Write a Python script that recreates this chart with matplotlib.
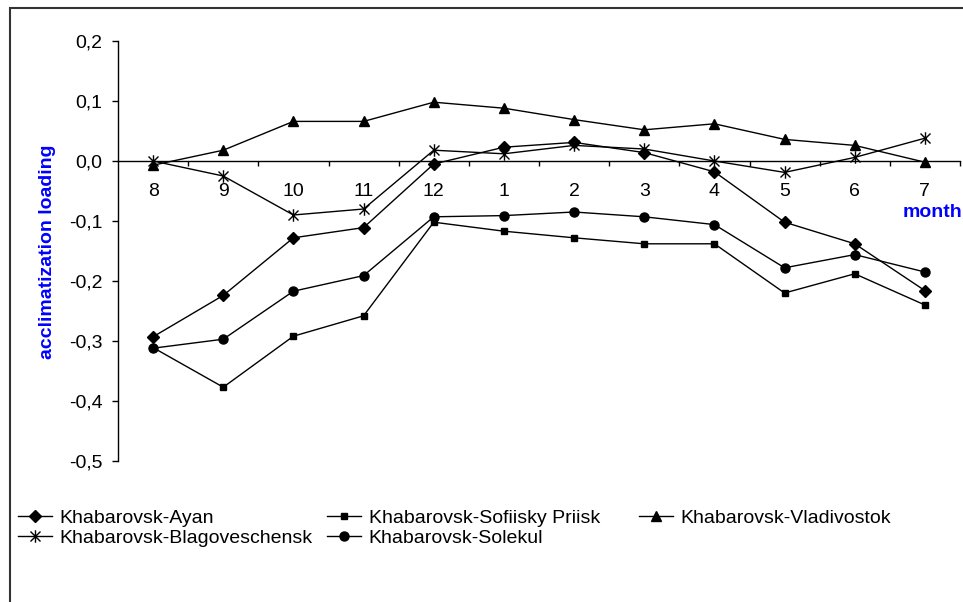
import matplotlib
matplotlib.use("Agg")
import matplotlib.pyplot as plt
from matplotlib.path import Path
from matplotlib.patches import Rectangle
from matplotlib.ticker import FixedLocator, FuncFormatter

months = ["8", "9", "10", "11", "12", "1", "2", "3", "4", "5", "6", "7"]
ayan = [-0.293, -0.224, -0.128, -0.111, -0.005, 0.023, 0.031, 0.014, -0.018, -0.102, -0.138, -0.216]
sofiisky = [-0.311, -0.377, -0.292, -0.258, -0.102, -0.117, -0.128, -0.138, -0.138, -0.220, -0.188, -0.240]
vladivostok = [-0.007, 0.018, 0.066, 0.066, 0.098, 0.088, 0.069, 0.052, 0.062, 0.036, 0.026, -0.002]
blagoveschensk = [0.000, -0.025, -0.090, -0.080, 0.018, 0.012, 0.026, 0.020, 0.000, -0.019, 0.006, 0.038]
solekul = [-0.312, -0.297, -0.217, -0.191, -0.093, -0.091, -0.085, -0.093, -0.106, -0.178, -0.156, -0.185]
labels = ["Khabarovsk-Ayan", "Khabarovsk-Sofiisky Priisk", "Khabarovsk-Vladivostok",
          "Khabarovsk-Blagoveschensk", "Khabarovsk-Solekul"]
yticks = [-0.5, -0.4, -0.3, -0.2, -0.1, 0.0, 0.1, 0.2]

plt.rcParams['font.family'] = ['Liberation Sans', 'DejaVu Sans']

W, H = 963, 602
fig = plt.figure(figsize=(W / 100, H / 100), dpi=100)
ax = fig.add_axes([118 / W, 1 - 461 / H, (960 - 118) / W, (461 - 41) / H])

star = Path([(0, -1), (0, 1), (-0.8, -0.8), (0.8, 0.8), (-0.8, 0.8), (0.8, -0.8)],
            [Path.MOVETO, Path.LINETO, Path.MOVETO, Path.LINETO, Path.MOVETO, Path.LINETO])

x = list(range(len(months)))
series = [
    (ayan, 'D', 5.8),
    (sofiisky, 's', 4.8),
    (vladivostok, '^', 7.0),
    (blagoveschensk, star, 9.0),
    (solekul, 'o', 6.5),
]
handles = []
for (vals, mk, ms), lab in zip(series, labels):
    h, = ax.plot(x, vals, color='black', lw=1.0, marker=mk, markersize=ms,
                 markerfacecolor='black', markeredgecolor='black', markeredgewidth=1.0,
                 label=lab, clip_on=False)
    handles.append(h)

ax.set_xlim(-0.5, len(months) - 0.5)
ax.set_ylim(-0.5, 0.2)

ax.spines['top'].set_visible(False)
ax.spines['right'].set_visible(False)
ax.spines['bottom'].set_position(('data', 0))
ax.spines['bottom'].set_linewidth(1.0)
ax.spines['left'].set_linewidth(1.0)

ax.set_yticks(yticks)
ax.yaxis.set_major_formatter(FuncFormatter(lambda v, p: f"{v:.1f}".replace('.', ',').replace('-0,0', '0,0')))
ax.tick_params(axis='y', direction='out', length=4.3, width=1, labelsize=14, pad=7)

ax.set_xticks(x)
ax.set_xticklabels(months)
ax.tick_params(axis='x', which='major', length=0, labelsize=14, pad=16)
ax.xaxis.set_minor_locator(FixedLocator([i + 0.5 for i in x]))
ax.tick_params(axis='x', which='minor', direction='out', length=3.6, width=1)

fig.text(47 / W, 1 - 252 / H, "acclimatization loading", rotation=90, color='#0000ff',
         fontsize=14, fontweight='bold', ha='center', va='center')
fig.text(962 / W, 1 - 213 / H, "month", color='#0000ff', fontsize=14, fontweight='bold',
         ha='right', va='center')

# legend entries: (series index, handle start x px, row center y px)
leg_pos = [(0, 18, 518), (1, 327, 518), (2, 639, 518), (3, 18, 538), (4, 327, 538)]
for idx, lx, ly in leg_pos:
    lg = fig.legend([handles[idx]], [labels[idx]], loc='center left',
                    bbox_to_anchor=(lx / W, 1 - ly / H), frameon=False, fontsize=14,
                    handlelength=1.75, handletextpad=0.4, borderpad=0, borderaxespad=0)

fig.patches.append(Rectangle((10 / W, -0.1), 2.0, 1 - 8 / H + 0.1, transform=fig.transFigure,
                             fill=False, edgecolor='#333333', lw=1.5))

fig.savefig("out.png", dpi=100)
